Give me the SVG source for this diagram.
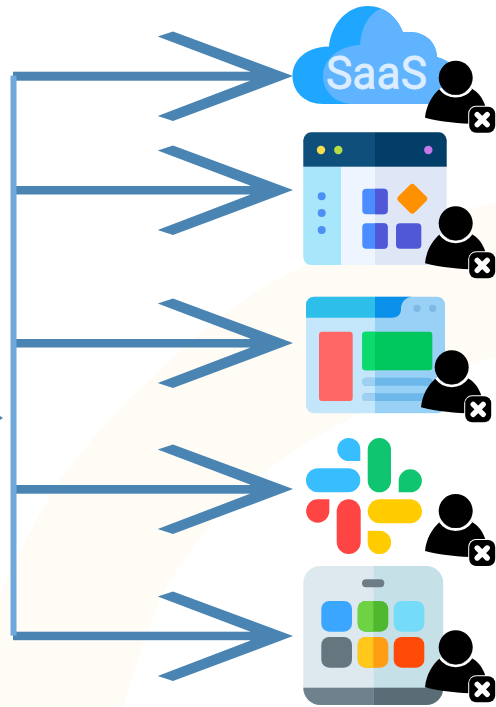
<svg xmlns="http://www.w3.org/2000/svg" width="496" height="707" viewBox="0 0 496 707">
<style>
.wire{fill:#4a84b2}
.white{fill:#fff}
.k{fill:#000}
.saas{font-family:"Roboto","Liberation Sans",sans-serif;font-size:47px;fill:#dcedff;stroke:#dcedff;stroke-width:.8px;stroke-linejoin:round}
</style>
<defs>
<symbol id="headShape" overflow="visible">
<polygon points="157.7,-39.5 173,-44.5 293,0 173,45 157.7,40 250,4.8 250,-4.6"/>
</symbol>
<g id="person">
<path class="k" d="M-30.7,40C-29.5,28-24,18-15.5,10.5Q0,23 15.5,10.5C22,14 27,20 29.5,28L20,46C5,46-15,44-30.7,40Z"/>
<path d="M-15.5,10.5A19,19 0 0 0 15.5,10.5" fill="none" stroke="#fff" stroke-width="2.8"/>
<circle class="k" r="17"/>
<rect x="12.5" y="28" width="28" height="28" rx="8" fill="#fff"/>
<rect x="13.5" y="29" width="26" height="26" rx="7" class="k"/>
<path d="M21.5,37L31.5,47M31.5,37L21.5,47" stroke="#fff" stroke-width="5.4" stroke-linecap="round" fill="none"/>
</g>
<clipPath id="cloudClip"><path d="M323,104C305,104 292.5,92 292.5,76C292.5,60 306,47 329,46.5C331,24 347,6 368,6C385,6 398,18 403,32.5C420,30 436,38 437,57C452,62 465,72 465,85C465,96 455,104 440,104Z"/></clipPath>
<clipPath id="win2"><rect x="303.3" y="132.3" width="143.4" height="132.7" rx="8"/></clipPath>
<clipPath id="win3"><rect x="306" y="296.7" width="139" height="116.6" rx="8"/></clipPath>
<clipPath id="win5"><rect x="303.3" y="566" width="140" height="139" rx="17"/></clipPath>
</defs>

<path id="background" fill="#fffbf5" d="M0,597C12,565 35,520 60,480C90,440 120,405 150,380C195,335 245,295 290,273C360,240 430,215 496,203L496,357C430,375 380,405 333,428C260,465 195,530 160,600C145,635 133,675 123,707L0,707Z"/>

<g id="connectors">
<polygon class="wire" points="0,416 3,418 0,420"/>
<rect class="wire" x="13" y="71.7" width="240" height="9"/>
<rect class="wire" x="16" y="186" width="237" height="8.5"/>
<rect class="wire" x="16" y="339" width="237" height="8.5"/>
<rect class="wire" x="16" y="485" width="237" height="8.7"/>
<rect class="wire" x="13" y="631.7" width="240" height="8.5"/>
<use href="#headShape" class="wire" y="76"/>
<use href="#headShape" class="wire" y="190"/>
<use href="#headShape" class="wire" y="343"/>
<use href="#headShape" class="wire" y="489"/>
<use href="#headShape" class="wire" y="636"/>
<rect x="10.5" y="75.6" width="6" height="560" fill="#6fa8dc"/>
</g>

<g id="node-saas">
<g clip-path="url(#cloudClip)">
<rect x="290" y="0" width="180" height="110" fill="#1fa7ff"/>
<path d="M382,8C368,14 361,28 360,45C340,46 323,58 323,77C323,90 335,104 352,104L500,104L500,0Z" fill="#60b4ff"/>
</g>
<text class="saas" x="326" y="89" textLength="101" lengthAdjust="spacingAndGlyphs">SaaS</text>
<use href="#person" transform="translate(455.7,77.7)"/>
</g>

<g id="node-dashboard">
<g clip-path="url(#win2)">
<rect x="303" y="132" width="72" height="134" fill="#eff5fe"/>
<rect x="375" y="132" width="72" height="134" fill="#dfe6f5"/>
<rect x="303" y="166.7" width="38" height="99" fill="#a8e7fb"/>
<rect x="303" y="132" width="72" height="34.7" fill="#0f4f7c"/>
<rect x="375" y="132" width="72" height="34.7" fill="#033e68"/>
</g>
<circle cx="321" cy="150" r="4.2" fill="#f6df4a"/>
<circle cx="338.3" cy="150" r="4.2" fill="#b5dc45"/>
<circle cx="428.3" cy="150" r="4.2" fill="#c678e8"/>
<circle cx="321.7" cy="196.3" r="4" fill="#4d90f5"/>
<circle cx="321.7" cy="213" r="4" fill="#4d90f5"/>
<circle cx="321.7" cy="230" r="4" fill="#4d90f5"/>
<rect x="362.3" y="188.7" width="25.4" height="25.6" rx="4" fill="#4b8cff"/>
<path d="M375,188.7h8.7a4,4 0 0 1 4,4v17.6a4,4 0 0 1-4,4h-8.7Z" fill="#5058d8"/>
<rect x="362.3" y="223.3" width="25.4" height="25.4" rx="4" fill="#4b8cff"/>
<path d="M375,223.3h8.7a4,4 0 0 1 4,4v17.4a4,4 0 0 1-4,4h-8.7Z" fill="#5058d8"/>
<rect x="396" y="223.3" width="25.3" height="25.4" rx="4" fill="#5058d8"/>
<rect x="400.8" y="187.2" width="23" height="23" rx="3.5" fill="#ff9100" transform="rotate(45 412.3 198.7)"/>
<use href="#person" transform="translate(455.7,223.3)"/>
</g>

<g id="node-browser">
<g clip-path="url(#win3)">
<rect x="306" y="296" width="69" height="118" fill="#c3e6fb"/>
<rect x="375" y="296" width="70" height="118" fill="#98d1f5"/>
<path d="M306,296H375V317.7H306Z" fill="#2dbfe9"/>
<path d="M375,296H413C404,298 401,303 401,309C401,314 398,317.7 392,317.7H375Z" fill="#0a90e8"/>
</g>
<circle cx="417" cy="308.3" r="3.6" fill="#7db9e4"/>
<circle cx="432.7" cy="308.3" r="3.6" fill="#7db9e4"/>
<rect x="319" y="331.7" width="33.7" height="69.3" rx="3" fill="#ff6767"/>
<rect x="362.3" y="331.7" width="70" height="38.6" rx="3" fill="#00c85f"/>
<path d="M375,331.7H365.3a3,3 0 0 0-3,3v32.6a3,3 0 0 0 3,3H375Z" fill="#0adb6c"/>
<rect x="362.3" y="377.7" width="70" height="8" rx="4" fill="#6cb8ea"/>
<path d="M375,377.7H366.3a4,4 0 0 0 0,8H375Z" fill="#9fd0f2"/>
<rect x="362.3" y="393.3" width="70" height="7.7" rx="3.8" fill="#6cb8ea"/>
<path d="M375,393.3H366.1a3.8,3.8 0 0 0 0,7.7H375Z" fill="#9fd0f2"/>
<use href="#person" transform="translate(451.7,367.3)"/>
</g>

<g id="node-slack">
<path d="M360.3,461H348.8a11.5,11.5 0 1 1 11.5-11.5Z" fill="#38bdff"/>
<rect x="306" y="468.3" width="54.3" height="24" rx="12" fill="#38bdff"/>
<rect x="367.7" y="438" width="23.3" height="54.3" rx="11.6" fill="#0fc56f"/>
<path d="M398.7,492.3V480.8a11.6,11.5 0 1 1 11.6,11.5Z" fill="#0fc56f"/>
<path d="M329.3,499.3V511a11.6,11.7 0 1 1-11.6-11.7Z" fill="#ff4444"/>
<rect x="336.7" y="499.3" width="24" height="54.7" rx="12" fill="#ff4444"/>
<rect x="367.7" y="499.3" width="54.3" height="24" rx="12" fill="#ffcc00"/>
<path d="M367.7,530.7H379.3a11.7,11.7 0 1 1-11.6,11.7Z" fill="#ffcc00"/>
<use href="#person" transform="translate(455.7,511)"/>
</g>

<g id="node-apps">
<g clip-path="url(#win5)">
<rect x="303" y="566" width="70.3" height="140" fill="#dde9ef"/>
<rect x="373.3" y="566" width="70.3" height="140" fill="#c5e0e6"/>
<rect x="303" y="687.7" width="70.3" height="18" fill="#6e818c"/>
<rect x="373.3" y="687.7" width="70.3" height="18" fill="#5a6c76"/>
</g>
<rect x="362" y="579.3" width="22.3" height="8" rx="4" fill="#6e7d85"/>
<rect x="321.3" y="601" width="30.7" height="30.7" rx="8" fill="#3aa6ff"/>
<rect x="357.7" y="601" width="30.6" height="30.7" rx="8" fill="#4fb82e"/>
<path d="M373.3,601H365.7a8,8 0 0 0-8,8v14.7a8,8 0 0 0 8,8h7.6Z" fill="#6dd344"/>
<rect x="393.7" y="601" width="30.6" height="30.7" rx="8" fill="#74dcf8"/>
<rect x="321.3" y="637" width="30.7" height="30.7" rx="8" fill="#66767f"/>
<rect x="357.7" y="637" width="30.6" height="30.7" rx="8" fill="#ff9d14"/>
<path d="M373.3,637H365.7a8,8 0 0 0-8,8v14.7a8,8 0 0 0 8,8h7.6Z" fill="#ffc81a"/>
<rect x="393.7" y="637" width="30.6" height="30.7" rx="8" fill="#ff4a08"/>
<use href="#person" transform="translate(455.7,647.3)"/>
</g>
</svg>
